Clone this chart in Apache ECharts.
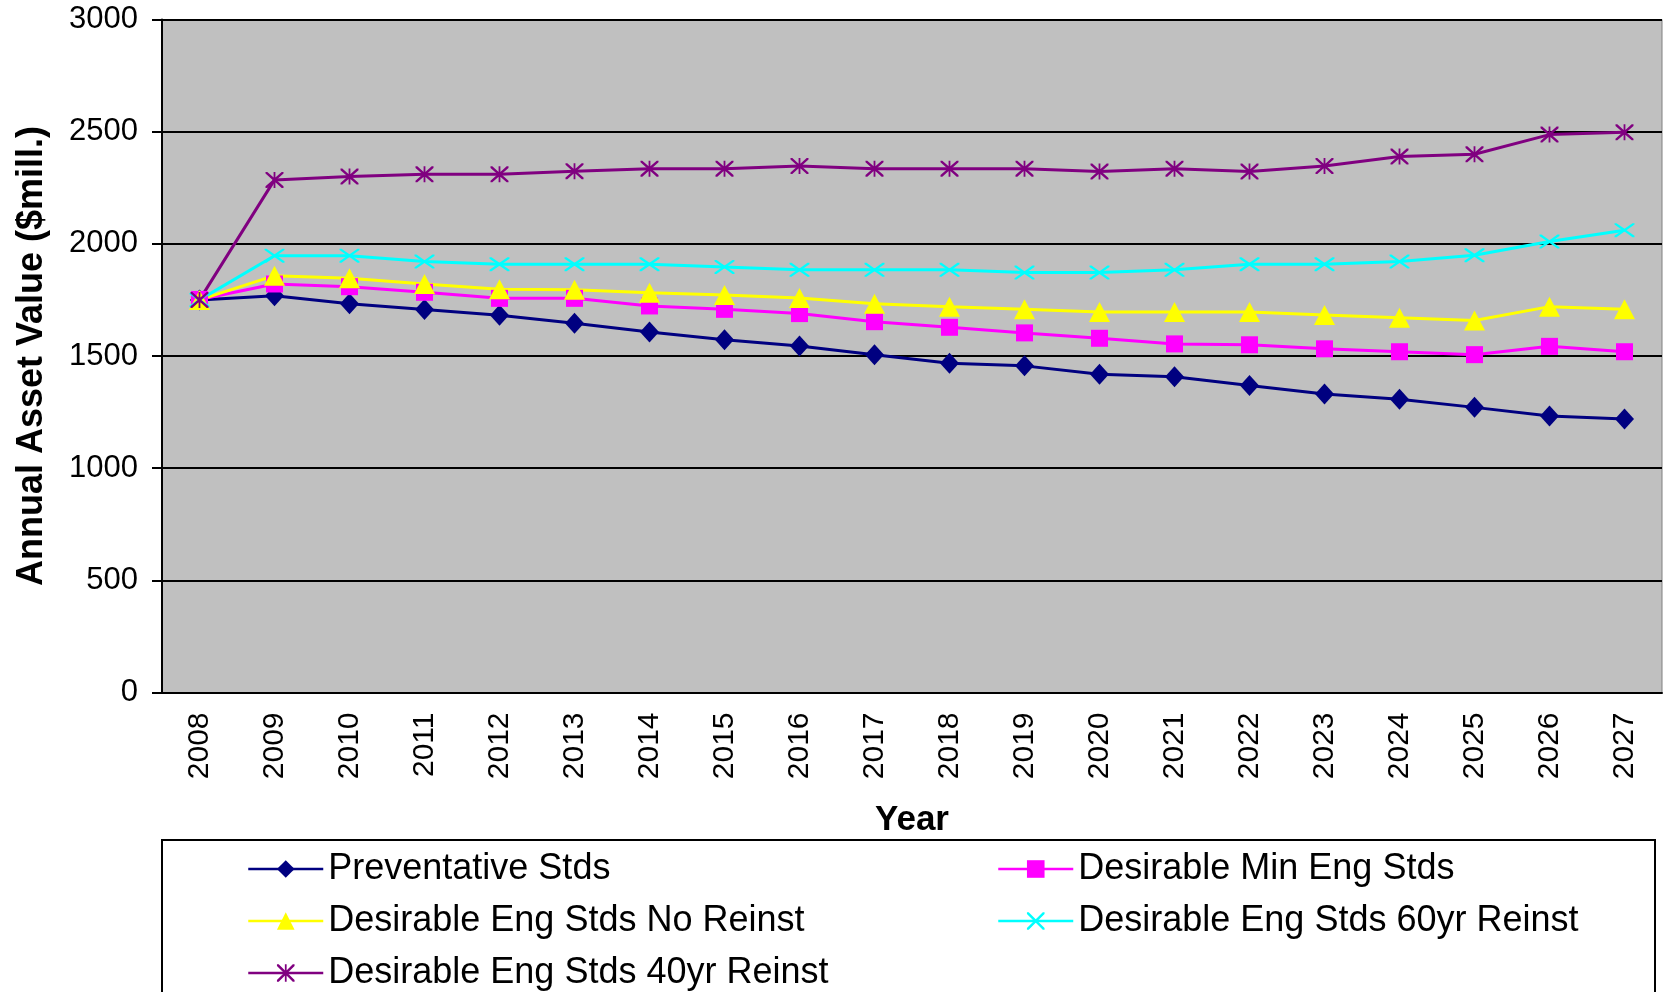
<!DOCTYPE html>
<html>
<head>
<meta charset="utf-8">
<script src="https://cdn.jsdelivr.net/npm/echarts@6/dist/echarts.min.js"></script>
<style>
  html, body { margin: 0; padding: 0; background: #fff; }
  #chart { width: 1667px; height: 992px; }
</style>
</head>
<body>
<div id="chart"></div>
<script>
const years = ['2008', '2009', '2010', '2011', '2012', '2013', '2014', '2015', '2016', '2017',
  '2018', '2019', '2020', '2021', '2022', '2023', '2024', '2025', '2026', '2027']
const preventative = [1750, 1769, 1733, 1707, 1682, 1646, 1607, 1572, 1545, 1506, 1468, 1456, 1419, 1407, 1368, 1331, 1307, 1271, 1233, 1219]
const minEng = [1752, 1821, 1809, 1784, 1757, 1757, 1723, 1708, 1689, 1653, 1628, 1603, 1579, 1554, 1550, 1532, 1519, 1506, 1543, 1519]
const noReinst = [1750, 1858, 1847, 1821, 1798, 1795, 1782, 1772, 1759, 1733, 1720, 1708, 1696, 1696, 1696, 1683, 1671, 1658, 1720, 1708]
const reinst60 = [1750, 1947, 1947, 1921, 1909, 1909, 1909, 1897, 1884, 1884, 1884, 1872, 1872, 1884, 1909, 1909, 1921, 1949, 2010, 2061]
const reinst40 = [1750, 2285, 2300, 2310, 2310, 2324, 2335, 2335, 2347, 2335, 2335, 2335, 2322, 2335, 2322, 2347, 2389, 2399, 2487, 2497]

const FONT = '"Liberation Sans", Arial, sans-serif'
// filled outlines for the x and asterisk markers
const X_PATH = 'path://M0,0 L2,0 L10,8 L18,0 L20,0 L20,2 L12,10 L20,18 L20,20 L18,20 L10,12 L2,20 L0,20 L0,18 L8,10 L0,2 Z'
const STAR_PATH = 'path://M0,0 L2,0 L10,8 L18,0 L20,0 L20,2 L12,10 L20,18 L20,20 L18,20 L10,12 L2,20 L0,20 L0,18 L8,10 L0,2 Z M9,0 L11,0 L11,20 L9,20 Z'

function line(name, data, color, symbol, size, width) {
  return {
    name, type: 'line', data,
    symbol, symbolSize: size,
    lineStyle: { color, width },
    itemStyle: { color },
    emphasis: { disabled: true },
  }
}

const legendBase = {
  orient: 'vertical', top: 843, height: 300,
  itemWidth: 75, itemHeight: 22, itemGap: 10,
  lineStyle: { width: 2.5 },
  textStyle: { fontSize: 36, color: '#000', lineHeight: 42, fontFamily: FONT },
}

const chart = echarts.init(document.getElementById('chart'))
chart.setOption({
  animation: false,
  backgroundColor: '#fff',
  textStyle: { fontFamily: FONT },
  grid: {
    left: 162, right: 5, top: 19.5, bottom: 299.5,
    show: true, backgroundColor: '#c0c0c0', borderColor: '#808080', borderWidth: 1,
  },
  xAxis: {
    type: 'category',
    data: years,
    boundaryGap: true,
    name: 'Year',
    nameLocation: 'middle',
    nameGap: 110,
    nameTextStyle: { fontSize: 35, fontWeight: 'bold', color: '#000', fontFamily: FONT },
    axisLine: { lineStyle: { color: '#000', width: 2 } },
    axisTick: { length: 9, lineStyle: { color: '#000', width: 2 } },
    axisLabel: { rotate: 90, interval: 0, fontSize: 30, color: '#000', margin: 20, fontFamily: FONT },
  },
  yAxis: {
    type: 'value',
    min: 0, max: 3000, interval: 500,
    name: 'Annual Asset Value ($mill.)',
    nameLocation: 'middle',
    nameGap: 112,
    nameTextStyle: { fontSize: 36, fontWeight: 'bold', color: '#000', fontFamily: FONT },
    axisLine: { show: true, lineStyle: { color: '#000', width: 2 } },
    axisTick: { show: true, length: 10, lineStyle: { color: '#000', width: 2 } },
    axisLabel: { fontSize: 31, color: '#000', margin: 24, fontFamily: FONT, formatter: v => String(v) },
    splitLine: { lineStyle: { color: '#000', width: 2 } },
  },
  graphic: [{
    type: 'rect', z: -1,
    shape: { x: 162, y: 840, width: 1493, height: 200 },
    style: { fill: '#fff', stroke: '#000', lineWidth: 2 },
  }],
  legend: [
    Object.assign({}, legendBase, {
      left: 242,
      data: ['Preventative Stds', 'Desirable Eng Stds No Reinst', 'Desirable Eng Stds 40yr Reinst'],
    }),
    Object.assign({}, legendBase, {
      left: 992,
      data: ['Desirable Min Eng Stds', 'Desirable Eng Stds 60yr Reinst'],
    }),
  ],
  series: [
    line('Preventative Stds', preventative, '#000080', 'diamond', [19, 21], 3),
    line('Desirable Min Eng Stds', minEng, '#ff00ff', 'rect', 17, 3),
    line('Desirable Eng Stds No Reinst', noReinst, '#ffff00', 'triangle', [21, 20], 3),
    line('Desirable Eng Stds 60yr Reinst', reinst60, '#00ffff', X_PATH, [20, 14], 3),
    line('Desirable Eng Stds 40yr Reinst', reinst40, '#800080', STAR_PATH, [18, 16], 3),
  ],
})
</script>
</body>
</html>
